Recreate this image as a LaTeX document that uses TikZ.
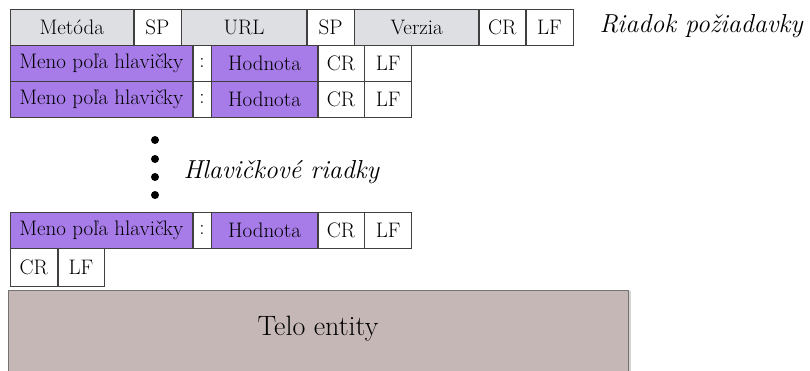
\documentclass[tikz,border=0pt]{standalone}
\usepackage{fontspec}
\usetikzlibrary{positioning,shadows}

\definecolor{hdrgray}{RGB}{221,223,227}
\definecolor{fieldpurple}{RGB}{167,124,232}
\definecolor{bodyrose}{RGB}{198,183,183}

\tikzset{
  cell/.style={draw=black!75, line width=0.6pt, minimum height=36, inner sep=0pt,
    font=\fontsize{21}{24}\selectfont, anchor=north west},
  hdr/.style={cell, fill=hdrgray},
  fld/.style={cell, fill=fieldpurple},
  plain/.style={cell, fill=white},
  note/.style={font=\fontsize{26}{30}\selectfont\itshape, anchor=west},
  dot/.style={circle, fill=black, inner sep=0pt, minimum size=8}
}

\newcommand{\headerline}[2]{%
  \node[fld, minimum width=182] at (10,#2) (#1n) {Meno poľa hlavičky};
  \node[plain, minimum width=18, right=0pt of #1n] (#1c) {:};
  \node[fld, minimum width=106, right=0pt of #1c] (#1v) {Hodnota};
  \node[plain, minimum width=46, right=0pt of #1v] (#1cr) {CR};
  \node[plain, minimum width=47, right=0pt of #1cr] (#1lf) {LF};
}

\begin{document}
\begin{tikzpicture}[x=1pt, y=-1pt]
\useasboundingbox (0,0) rectangle (810,370);

% riadok poziadavky
\node[hdr, minimum width=123] at (10,9) (met) {Metóda};
\node[plain, minimum width=47, right=0pt of met] (sp1) {SP};
\node[hdr, minimum width=125, right=0pt of sp1] (url) {URL};
\node[plain, minimum width=47, right=0pt of url] (sp2) {SP};
\node[hdr, minimum width=124, right=0pt of sp2] (ver) {Verzia};
\node[plain, minimum width=46, right=0pt of ver] (rcr) {CR};
\node[plain, minimum width=47, right=0pt of rcr] (rlf) {LF};
\node[note] at (596,26) (rlab) {Riadok požiadavky};

% hlavickove riadky
\headerline{ha}{45}
\headerline{hb}{81}
\node[dot] at (155,140) (d1) {};
\node[dot] at (155,159) (d2) {};
\node[dot] at (155,177) (d3) {};
\node[dot] at (155,195) (d4) {};
\node[note] at (180,172) (hlab) {Hlavičkové riadky};
\headerline{hc}{212}

% prazdny riadok
\node[plain, minimum width=47, minimum height=38] at (10,248) (ecr) {CR};
\node[plain, minimum width=46, minimum height=38, right=0pt of ecr] (elf) {LF};

% telo
\node[draw=black!55, line width=1pt, fill=bodyrose, anchor=north west,
  minimum width=620, minimum height=100, inner sep=0pt,
  drop shadow={shadow xshift=2pt, shadow yshift=0pt, opacity=0.35}]
  at (8,290) (telo) {};
\node[font=\fontsize{28}{32}\selectfont] at (318,329) (tlab) {Telo entity};
\end{tikzpicture}
\end{document}
